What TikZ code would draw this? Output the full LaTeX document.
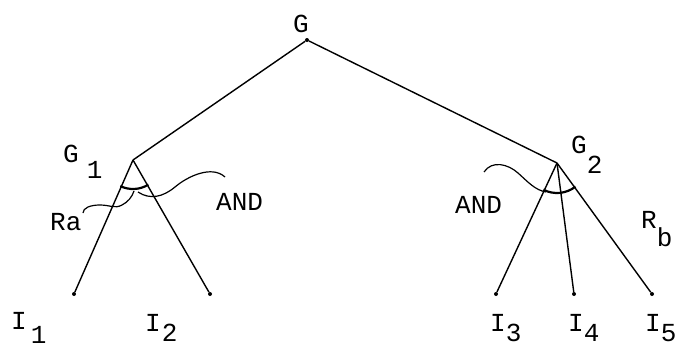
\documentclass[tikz,border=0pt]{standalone}
\usepackage{fontspec}
\setmonofont{Liberation Mono}
\begin{document}
\begin{tikzpicture}[x=1pt,y=-1pt,
  lbl/.style={font=\ttfamily\fontsize{26}{26}\selectfont, anchor=base west, inner sep=0pt},
  pt/.style={circle, fill, inner sep=0pt, minimum size=4pt},
  edge/.style={line width=1.4pt},
  andarc/.style={line width=2.2pt},
  squig/.style={line width=1.2pt}]
\useasboundingbox (0,0) rectangle (676,348);
% points
\node[pt] (G) at (307,40) {};
\coordinate (G1) at (133,160);
\coordinate (G2) at (557,163);
\node[pt] (I1) at (74,294) {};
\node[pt] (I2) at (210,294) {};
\node[pt] (I3) at (496,294) {};
\node[pt] (I4) at (574,294) {};
\node[pt] (I5) at (652,294) {};
% edges
\draw[edge] (G) -- (G1);
\draw[edge] (G) -- (G2);
\draw[edge] (G1) -- (I1);
\draw[edge] (G1) -- (I2);
\draw[edge] (G2) -- (I3);
\draw[edge] (G2) -- (I4);
\draw[edge] (G2) -- (I5);
% AND arcs
\draw[andarc] ([shift={(58:29)}]G1) arc[start angle=58, end angle=116, radius=29];
\draw[andarc] ([shift={(52:30)}]G2) arc[start angle=52, end angle=117, radius=30];
% squiggles
\coordinate (sqL) at (138,192);
\coordinate (sqLend) at (225,177);
\draw[squig] (sqL) .. controls (150,200) and (163,197) .. (175,187)
  .. controls (188,176) and (212,165) .. (sqLend);
\coordinate (sqRa) at (83,213);
\coordinate (sqRaend) at (134,191);
\draw[squig] (sqRa) .. controls (83,208) and (90,205) .. (100,205)
  .. controls (110,205) and (115,209) .. (122,205)
  .. controls (128,202) and (132,197) .. (sqRaend);
\coordinate (sqR) at (546,192);
\coordinate (sqRend) at (484,172);
\draw[squig] (sqR) .. controls (535,190) and (528,182) .. (518,173)
  .. controls (508,164) and (492,160) .. (sqRend);
% labels
\node[lbl] (lG) at (293,32) {G};
\node[lbl] (lG1) at (63,162) {G\hspace{8pt}\raisebox{-16pt}{1}};
\node[lbl] (lG2) at (571,153) {G\raisebox{-20pt}{2}};
\node[lbl] (lI1) at (11,329) {I\hspace{4pt}\raisebox{-14pt}{1}};
\node[lbl] (lI2) at (145,331) {I\hspace{1pt}\raisebox{-10pt}{2}};
\node[lbl] (lI3) at (490,331) {I\raisebox{-10pt}{3}};
\node[lbl] (lI4) at (568,331) {I\raisebox{-10pt}{4}};
\node[lbl] (lI5) at (645,331) {I\raisebox{-10pt}{5}};
\node[lbl] (andL) at (216,210) {AND};
\node[lbl] (andR) at (455,213) {AND};
\node[lbl] (ra) at (50,230) {Ra};
\node[lbl] (rb) at (641,228) {R\raisebox{-18pt}{b}};
\end{tikzpicture}
\end{document}
